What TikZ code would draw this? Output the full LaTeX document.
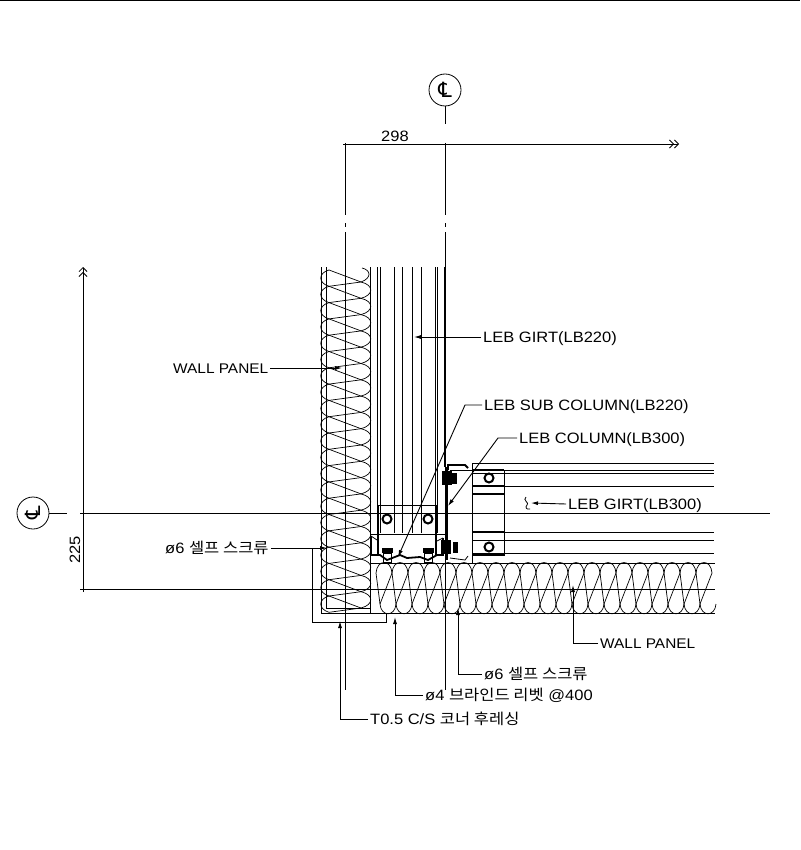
\documentclass[tikz,border=0pt]{standalone}
\usepackage{fontspec}
\setmainfont[FakeStretch=1.1]{Liberation Sans}
\newfontfamily\korfont[FakeStretch=1.1]{Noto Sans CJK KR}
\newfontfamily\symfont{DejaVu Sans}
\usetikzlibrary{arrows.meta}

\tikzset{
  thin line/.style={line width=0.8pt},
  thick line/.style={line width=1.8pt},
  heavy line/.style={line width=3pt},
  coil/.style={line width=0.7pt},
  leader/.style={line width=0.9pt, -{Latex[length=7pt, width=4pt]}},
  open tip/.style={line width=0.8pt, -{Straight Barb[length=4pt, width=8pt] Straight Barb[length=4pt, width=8pt]}},
  label/.style={anchor=west, inner ysep=0pt, inner xsep=2pt, text height=11pt, text depth=0pt, font=\fontsize{15}{15}\selectfont},
  short label/.style={label, font=\fontsize{14}{14}\selectfont},
  mark circle/.style={circle, draw, line width=0.8pt, minimum size=32pt, inner sep=0pt},
  bolt/.style={circle, draw, line width=2pt, minimum size=9pt, inner sep=0pt},
  blob/.style={fill=black, draw=black, minimum width=9pt, minimum height=13pt, inner sep=0pt}
}

\begin{document}
\begin{tikzpicture}[x=1pt, y=-1pt]
    \useasboundingbox (0, 0) rectangle (800, 850);
    \draw[thin line] (0, 0.5)--(800, 0.5);

    % marks and dimensions
    \node[mark circle] (CLtop) at (445, 90){\symfont\fontsize{21}{21}\selectfont ℄};
    \node[mark circle] (CLleft) at (33, 513){\rotatebox{90}{\symfont\fontsize{21}{21}\selectfont ℄}};
    \coordinate (CLtopEnd) at (445, 124);
    \coordinate (CLleftEnd) at (67, 513);
    \draw[thin line] (CLtop)--(CLtopEnd);
    \draw[thin line] (CLleft)--(CLleftEnd);
    \draw[open tip] (343, 144)--(679, 144);
    \draw[open tip] (83, 592)--(83, 267);
    \node[inner sep=0pt, font=\fontsize{15}{15}\selectfont] (dimW) at (395, 136){298};
    \node[inner sep=0pt, font=\fontsize{15}{15}\selectfont, rotate=90] (dimH) at (75, 550){225};
    \foreach \x/\yend in {345/690, 445/690}{
      \draw[thin line] (\x, 143)--(\x, 215);
      \draw[thin line] (\x, 223)--(\x, 227);
      \draw[thin line] (\x, 232)--(\x, \yend);
    }
    \draw[thin line] (80, 513)--(770, 513);
    \draw[thin line] (80, 589)--(715, 589);

    % wall panel, vertical
    \draw[thin line] (321, 267)--(321, 613)--(715, 613);
    \draw[thin line] (326, 267)--(326, 608)--(370, 608);
    \draw[thin line] (370, 267)--(370, 613);
    \draw[thin line] (370, 563)--(715, 563);
    \foreach \i in {0, ..., 20}{
      \pgfmathsetmacro{\yl}{270+16.3*\i}
      \pgfmathsetmacro{\yr}{282+16.3*\i}
      \draw[coil] (329, \yl) .. controls (318, \yl+3) and (318, \yl+13) .. (329, \yl+16.3);
      \draw[coil] (329, \yl)--(361, \yr);
      \draw[coil] (329, \yl+16.3)--(361, \yr);
      \ifnum\i<20
        \draw[coil] (361, \yr) .. controls (374, \yr+3) and (374, \yr+13) .. (361, \yr+16.3);
      \fi
    }
    \draw[coil] (361, 282) .. controls (372, 278) and (371, 270) .. (362, 268);

    % wall panel, horizontal
    \foreach \i in {0, ..., 20}{
      \pgfmathsetmacro{\xt}{376+16*\i}
      \pgfmathsetmacro{\xb}{\xt+4}
      \draw[coil] (\xt, 573) .. controls (\xt+1, 559) and (\xt+15, 559) .. (\xt+16, 573);
      \draw[coil] (\xb, 604) .. controls (\xb+1, 617) and (\xb+15, 617) .. (\xb+16, 604);
      \draw[coil] (\xt+16, 573)--(\xb, 604);
      \draw[coil] (\xt, 573)--(\xb, 604);
    }

    % LEB girt in elevation
    \foreach \x in {377, 380, 394, 402, 412, 421, 435, 437}{
      \draw[thin line] (\x, 267)--(\x, 533);
    }
    \draw[thick line] (445, 267)--(445, 467);
    \draw[thick line] (378, 505)--(378, 555);
    \draw[thick line] (436, 505)--(436, 555);
    \draw[thin line] (378, 505)--(436, 505);
    \draw[thin line] (370, 534)--(445, 534);
    \node[bolt] (boltA) at (387, 519){};
    \node[bolt] (boltB) at (428, 519){};
    \draw[thick line] (371, 536)--(371, 555)--(380, 555)--(387, 560)--(400, 555)--(407, 558)--(420, 557)--(428, 560)--(437, 555)--(443, 555)--(443, 538);
    \draw[thin line] (371, 536)--(377, 540);
    \draw[thin line] (443, 538)--(437, 541);
    \node[fill=black, minimum width=11pt, minimum height=5pt, inner sep=0pt] (nutA) at (387, 550){};
    \node[fill=black, minimum width=11pt, minimum height=5pt, inner sep=0pt] (nutB) at (428, 550){};
    \draw[thin line] (383, 553) rectangle (391, 562);
    \draw[thin line] (424, 553) rectangle (432, 562);

    % LEB column
    \draw[heavy line] (446, 467)--(446, 560);
    \node[blob] (blobTop) at (447, 478){};
    \node[blob] (blobBot) at (446, 547){};
    \node[fill=black, minimum width=5pt, minimum height=11pt, inner sep=0pt] (nutC) at (454, 478){};
    \node[fill=black, minimum width=5pt, minimum height=11pt, inner sep=0pt] (nutD) at (455, 547){};
    \draw[thick line] (448, 470)--(448, 465)--(465, 465)--(468, 468);
    \draw[thin line] (450, 558)--(465, 560)--(468, 556);

    % LEB girt in section
    \foreach \y/\xs in {463/472, 470/450, 473/472, 486/504, 532/504, 540/472, 553/472}{
      \draw[thin line] (\xs, \y)--(714, \y);
    }
    \draw[thin line] (472, 463)--(472, 563);
    \draw[thin line] (504, 470)--(504, 556);
    \foreach \y in {470, 486, 494, 532, 555}{
      \draw[thick line] (472, \y)--(504, \y);
    }
    \node[bolt] (boltC) at (489, 478){};
    \node[bolt] (boltD) at (489, 547){};
    \draw[thin line] (526, 497) .. controls (522, 500) and (530, 503) .. (527, 505) .. controls (525, 507) and (526, 510) .. (530, 509);

    % corner flashing
    \coordinate (flashA) at (312, 548);
    \coordinate (flashB) at (397, 613);
    \draw[thin line] (flashA)--(312, 622)--(386, 622)--(386, 613)--(flashB);

    % labels and leaders
    \node[short label] (wallL) at (171, 368){WALL PANEL};
    \coordinate (wallLTip) at (342, 368);
    \draw[leader] (wallL.east)--(wallLTip);
    \node[label] (girtA) at (481, 337){LEB GIRT(LB220)};
    \coordinate (girtATip) at (414, 337);
    \draw[leader] (girtA.west)--(girtATip);
    \node[label] (subCol) at (482, 405){LEB SUB COLUMN(LB220)};
    \coordinate (subColTip) at (398, 557);
    \draw[leader] (subCol.west)--(465, 405)--(subColTip);
    \node[label] (col) at (517, 438){LEB COLUMN(LB300)};
    \coordinate (colTip) at (448, 506);
    \draw[leader] (col.west)--(498, 438)--(colTip);
    \node[label] (girtB) at (566, 504){LEB GIRT(LB300)};
    \coordinate (girtBTip) at (531, 503);
    \draw[leader] (girtB.west)--(girtBTip);
    \node[label] (screwL) at (163, 548){ø6 {\korfont 셀프 스크류}};
    \coordinate (screwLTip) at (327, 548);
    \draw[leader] (screwL.east)--(screwLTip);
    \node[short label] (wallR) at (598, 643){WALL PANEL};
    \coordinate (wallRTip) at (573, 585);
    \draw[leader] (wallR.west)--(573, 643)--(wallRTip);
    \node[label] (screwR) at (482, 674){ø6 {\korfont 셀프 스크류}};
    \coordinate (screwRTip) at (458, 608);
    \draw[leader] (screwR.west)--(458, 674)--(screwRTip);
    \node[label] (rivet) at (423, 695){ø4 {\korfont 브라인드 리벳} @400};
    \coordinate (rivetTip) at (395, 617);
    \draw[leader] (rivet.west)--(395, 695)--(rivetTip);
    \node[label] (flash) at (368, 719){T0.5 C/S {\korfont 코너 후레싱}};
    \coordinate (flashTip) at (340, 621);
    \draw[leader] (flash.west)--(340, 719)--(flashTip);
  \end{tikzpicture}
\end{document}
